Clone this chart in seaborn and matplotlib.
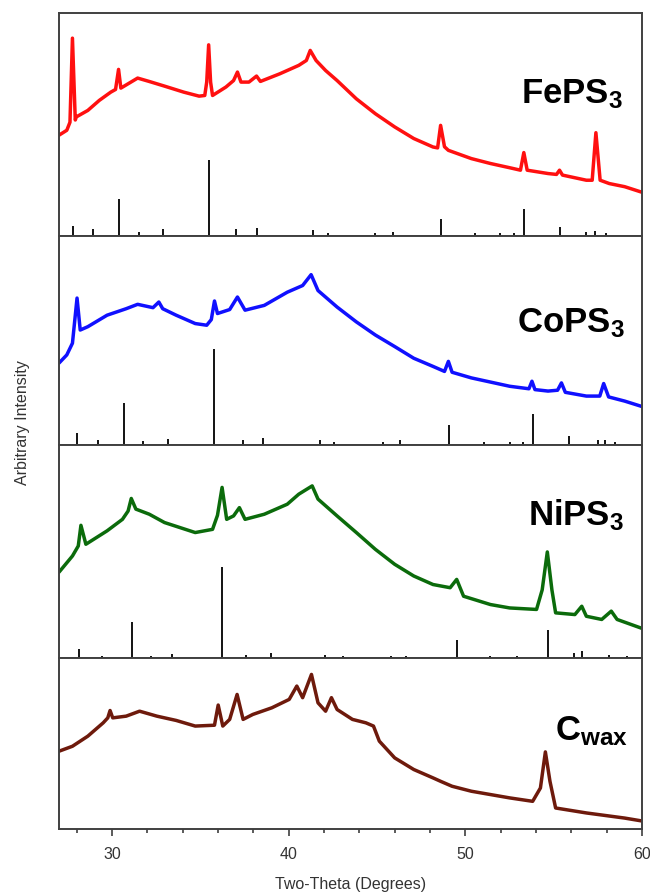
import matplotlib
matplotlib.use("Agg")
import matplotlib.pyplot as plt
from matplotlib.ticker import MultipleLocator
import seaborn as sns

# XRD patterns (2-theta in degrees, intensity in % of panel height)
fe_x = [27.00, 27.44, 27.62, 27.76, 27.92, 27.98, 28.63, 29.28, 29.93, 30.20, 30.37, 30.50,
        31.45, 32.10, 32.97, 34.06, 34.93, 35.25, 35.36, 35.47, 35.58, 35.69, 36.45, 36.88,
        37.10, 37.30, 37.75, 38.18, 38.40, 39.49, 40.57, 41.00, 41.22, 41.55, 42.09, 42.74,
        43.83, 44.91, 46.00, 47.08, 48.17, 48.43, 48.60, 48.82, 49.04, 50.34, 51.42, 52.51,
        53.12, 53.31, 53.50, 54.68, 55.16, 55.33, 55.50, 56.85, 57.18, 57.39, 57.63, 58.15,
        59.02, 60.00]
fe_y = [45.2, 47.4, 51.0, 88.7, 52.0, 53.4, 56.3, 60.8, 64.5, 65.7, 74.7, 66.3,
        70.8, 69.3, 67.2, 64.5, 62.7, 63.0, 69.0, 85.7, 69.0, 63.0, 66.8, 69.7,
        73.5, 69.0, 69.0, 71.7, 69.3, 72.7, 76.5, 78.7, 83.2, 78.7, 74.2, 69.7,
        61.5, 54.8, 48.9, 43.7, 39.9, 39.5, 49.6, 40.0, 38.4, 34.7, 32.5, 30.6,
        29.5, 37.4, 29.5, 28.0, 27.6, 29.5, 27.3, 25.0, 25.0, 46.3, 25.0, 23.5,
        22.1, 19.6]
fe_ref_x = [27.78, 28.93, 30.41, 31.50, 32.90, 35.51, 37.03, 38.22, 41.39, 42.20, 44.91,
            45.90, 48.65, 50.55, 51.96, 52.73, 53.33, 55.33, 56.85, 57.33, 57.94]
fe_ref_y = [4.6, 3.0, 16.4, 1.9, 3.1, 34.0, 3.0, 3.4, 2.7, 1.5, 1.2,
            1.9, 7.6, 1.5, 1.2, 1.5, 12.1, 4.2, 1.9, 2.2, 1.5]

co_x = [27.00, 27.44, 27.76, 28.02, 28.20, 28.63, 29.72, 30.80, 31.45, 32.32, 32.65, 32.87,
        33.63, 34.71, 35.36, 35.62, 35.80, 35.97, 36.66, 37.10, 37.53, 38.62, 39.92, 40.79,
        41.27, 41.66, 42.74, 43.83, 44.91, 46.00, 47.08, 48.17, 48.82, 49.04, 49.25, 50.34,
        52.51, 53.60, 53.77, 53.94, 54.68, 55.22, 55.44, 55.66, 56.85, 57.61, 57.83, 58.11,
        59.02, 60.00]
co_y = [39.2, 43.1, 48.7, 70.3, 55.0, 56.6, 62.1, 65.2, 67.3, 65.7, 68.4, 65.2,
        62.1, 58.1, 57.3, 60.0, 68.9, 62.9, 64.8, 70.8, 64.5, 66.8, 73.1, 76.3,
        81.5, 73.9, 66.0, 58.9, 52.6, 47.1, 41.5, 37.6, 35.2, 40.0, 34.8, 32.1,
        28.1, 26.9, 30.5, 26.5, 25.8, 26.2, 29.7, 25.2, 23.4, 23.4, 29.4, 23.0,
        21.0, 18.4]
co_ref_x = [28.02, 29.21, 30.65, 31.73, 33.18, 35.80, 37.42, 38.55, 41.79, 42.57, 45.35,
            46.32, 49.08, 51.05, 52.51, 53.29, 53.81, 55.88, 57.50, 57.89, 58.48]
co_ref_y = [5.7, 2.4, 19.9, 2.0, 2.8, 45.8, 2.5, 3.2, 2.2, 1.6, 1.3,
            2.2, 9.6, 1.6, 1.3, 1.3, 15.0, 4.4, 2.2, 2.5, 1.3]

ni_x = [27.00, 27.76, 28.09, 28.24, 28.52, 29.72, 30.59, 30.91, 31.09, 31.35, 32.11, 32.97,
        34.71, 35.69, 35.97, 36.23, 36.49, 36.88, 37.21, 37.53, 38.62, 39.92, 40.57, 41.33,
        41.66, 42.74, 43.83, 44.91, 46.00, 47.08, 48.17, 49.14, 49.51, 49.90, 51.42, 52.51,
        54.03, 54.35, 54.64, 54.90, 55.11, 56.20, 56.59, 56.85, 57.72, 58.26, 58.59, 60.00]
ni_y = [40.3, 47.9, 52.6, 62.3, 53.4, 59.7, 65.1, 69.0, 74.9, 69.9, 67.5, 63.6,
        58.9, 60.4, 67.0, 80.1, 65.1, 66.7, 70.6, 65.1, 67.5, 72.2, 76.9, 80.8,
        74.6, 66.7, 58.9, 51.0, 44.0, 38.5, 34.5, 33.0, 36.9, 29.0, 25.1, 23.5,
        22.8, 32.0, 49.8, 32.0, 21.2, 20.4, 24.3, 19.6, 18.1, 22.0, 18.1, 13.9]
ni_ref_x = [28.15, 29.45, 31.13, 32.20, 33.40, 36.23, 37.60, 38.99, 42.05, 43.07, 45.78,
            46.65, 49.51, 51.39, 52.90, 54.68, 56.13, 56.63, 58.15, 59.13]
ni_ref_y = [4.2, 1.1, 17.1, 0.8, 1.7, 42.9, 1.6, 2.4, 1.3, 0.8, 0.8,
            1.1, 8.6, 0.8, 0.8, 13.0, 2.4, 3.1, 1.6, 1.1]

wax_x = [27.00, 27.76, 28.63, 29.50, 29.76, 29.89, 30.04, 30.80, 31.56, 32.54, 33.63, 34.71,
         35.80, 36.01, 36.27, 36.66, 37.08, 37.42, 37.97, 39.05, 40.03, 40.46, 40.79, 41.29,
         41.66, 42.09, 42.42, 42.74, 43.61, 44.37, 44.80, 45.13, 46.00, 47.08, 48.17, 48.60,
         49.25, 50.34, 52.51, 53.81, 54.25, 54.53, 54.79, 55.11, 56.85, 59.02, 60.00]
wax_y = [45.5, 48.4, 54.3, 62.1, 65.0, 69.3, 65.0, 66.0, 68.9, 66.0, 63.5, 60.2,
         60.7, 72.5, 60.2, 64.1, 78.7, 64.1, 67.0, 70.9, 75.8, 83.6, 76.8, 90.4,
         73.8, 68.9, 76.8, 69.9, 64.1, 62.1, 60.2, 51.4, 41.6, 34.8, 29.9, 27.9,
         25.0, 22.1, 18.2, 16.2, 24.0, 45.1, 27.9, 12.3, 9.4, 6.4, 4.7]

labels = [r"FePS$_3$", r"CoPS$_3$", r"NiPS$_3$", r"C$_{wax}$"]
colors = ["#ff1010", "#1010ff", "#0b6b0b", "#6e1a0c"]

sns.set_style("white")
plt.rcParams["font.family"] = ["Liberation Sans", "DejaVu Sans"]
plt.rcParams["mathtext.default"] = "regular"

fig = plt.figure(figsize=(6.5, 8.95), dpi=100)
gs = fig.add_gridspec(4, 1, height_ratios=[223, 209, 213, 171], hspace=0,
                      left=0.0908, right=0.9877, top=0.9844, bottom=0.0726)
axes = [fig.add_subplot(gs[i]) for i in range(4)]

patterns = [(fe_x, fe_y, fe_ref_x, fe_ref_y),
            (co_x, co_y, co_ref_x, co_ref_y),
            (ni_x, ni_y, ni_ref_x, ni_ref_y),
            (wax_x, wax_y, None, None)]
label_pos = [(0.967, 0.601), (0.970, 0.545), (0.969, 0.629), (0.977, 0.526)]
frame = "#404040"

for ax, (x, y, rx, ry), lab, col, (tx, ty) in zip(axes, patterns, labels, colors, label_pos):
    sns.lineplot(x=x, y=y, ax=ax, color=col, lw=2.5, estimator=None, sort=False)
    if rx is not None:
        ax.vlines(rx, 0, ry, color="black", lw=1.3)
    ax.set_xlim(27, 60)
    ax.set_ylim(0, 100)
    ax.set_yticks([])
    ax.set_ylabel("")
    for s in ax.spines.values():
        s.set_color(frame)
        s.set_linewidth(1.4)
    ax.text(tx, ty, lab, transform=ax.transAxes, ha="right", va="baseline",
            fontsize=25, fontweight="bold", color="black")

for ax in axes[:-1]:
    ax.set_xticks([])
    ax.set_xlabel("")

bx = axes[-1]
bx.set_xticks([30, 40, 50, 60])
bx.xaxis.set_minor_locator(MultipleLocator(2))
bx.tick_params(axis="x", which="major", direction="out", length=5, width=1.2,
               color=frame, labelsize=11.5, labelcolor="#333333", pad=7, bottom=True)
bx.tick_params(axis="x", which="minor", direction="out", length=3, width=1.2,
               color=frame, bottom=True)
bx.set_xlabel("Two-Theta (Degrees)", fontsize=11.5, color="#333333", labelpad=11)

fig.text(0.034, 0.528, "Arbitrary Intensity", rotation=90, ha="center", va="center",
         fontsize=11.5, color="#333333")

plt.savefig("out.png", dpi=100)
